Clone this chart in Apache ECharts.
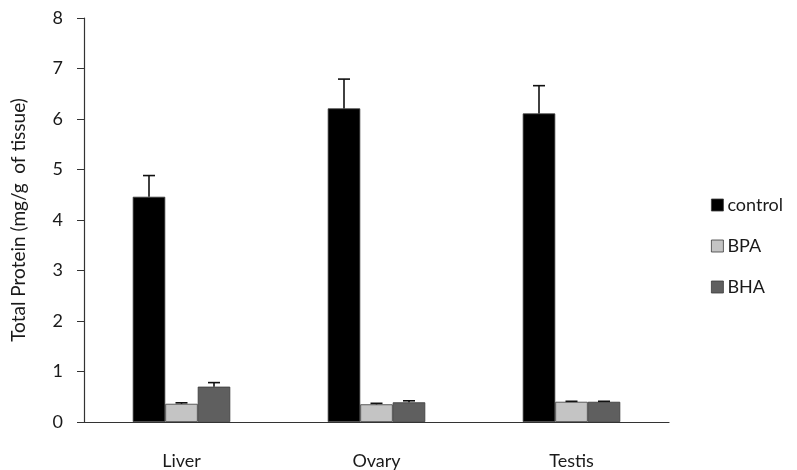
<!DOCTYPE html>
<html>
<head>
<meta charset="utf-8">
<script src="https://cdn.jsdelivr.net/npm/echarts@6/dist/echarts.min.js"></script>
<style>
  html, body { margin: 0; padding: 0; background: #fff; }
  #chart { width: 797px; height: 470px; }
</style>
</head>
<body>
<div id="chart"></div>
<script>
// Tissues and measured total protein (mg/g of tissue), with upper error (SD)
const tissues = ['Liver', 'Ovary', 'Testis'];
const controlValues = [4.46, 6.21, 6.11];
const controlErrors = [0.42, 0.58, 0.55];
const bpaValues = [0.36, 0.35, 0.40];
const bpaErrors = [0.02, 0.02, 0.01];
const bhaValues = [0.70, 0.39, 0.40];
const bhaErrors = [0.08, 0.03, 0.01];
const seriesNames = ['control', 'BPA', 'BHA'];
const yTicks = [0, 1, 2, 3, 4, 5, 6, 7, 8];

const colors = ['#000000', '#c4c4c4', '#5f5f5f'];
const fontFamily = 'Lato, "Open Sans", sans-serif';
const fontSize = 18;
const textColor = '#1a1a1a';
const GAP_RATIO = 0.5; // share of a category band left empty

const chart = echarts.init(document.getElementById('chart'), null, { renderer: 'canvas' });

// Upward error whiskers centred on each bar of a group
function errorSeries(values, errors, index) {
  return {
    type: 'custom',
    name: seriesNames[index] + ' error',
    z: 5,
    silent: true,
    data: values.map((v, i) => [i, v, v + errors[i]]),
    renderItem: function (params, api) {
      const cat = api.value(0);
      const band = api.size([1, 0])[0];
      const barW = band * (1 - GAP_RATIO) / 3;
      const base = api.coord([cat, api.value(1)]);
      const top = api.coord([cat, api.value(2)]);
      const x = base[0] + (index - 1) * barW;
      const half = 6;
      const style = { stroke: '#111', lineWidth: 1.6 };
      return {
        type: 'group',
        children: [
          { type: 'line', shape: { x1: x, y1: base[1], x2: x, y2: top[1] }, style: style },
          { type: 'line', shape: { x1: x - half, y1: top[1], x2: x + half, y2: top[1] }, style: style }
        ]
      };
    }
  };
}

function barSeries(values, index) {
  return {
    type: 'bar',
    name: seriesNames[index],
    data: values,
    barGap: '0%',
    barCategoryGap: (GAP_RATIO * 100) + '%',
    itemStyle: { color: colors[index], borderColor: '#3a3a3a', borderWidth: 0.8 }
  };
}

chart.setOption({
  animation: false,
  backgroundColor: '#ffffff',
  grid: { left: 84, right: 128, top: 18, bottom: 48, containLabel: false },
  legend: {
    data: seriesNames,
    orient: 'vertical',
    left: 706,
    top: 191,
    itemWidth: 12,
    itemHeight: 12,
    itemGap: 23,
    icon: 'rect',
    textStyle: { fontFamily: fontFamily, fontSize: fontSize, color: textColor, padding: [0, 0, 0, -1] },
    itemStyle: { borderColor: '#3a3a3a', borderWidth: 0.8 }
  },
  xAxis: {
    type: 'category',
    data: tissues,
    axisLine: { lineStyle: { color: '#333', width: 1.2 } },
    axisTick: { show: false },
    axisLabel: { fontFamily: fontFamily, fontSize: fontSize, color: textColor, margin: 30 }
  },
  yAxis: {
    type: 'value',
    min: yTicks[0],
    max: yTicks[yTicks.length - 1],
    interval: 1,
    name: 'Total Protein (mg/g  of tissue)',
    nameLocation: 'middle',
    nameGap: 56,
    nameRotate: 90,
    nameTextStyle: { fontFamily: fontFamily, fontSize: 19, color: textColor },
    axisLine: { show: true, lineStyle: { color: '#333', width: 1.2 } },
    axisTick: { show: true, inside: false, length: 7, lineStyle: { color: '#333' } },
    axisLabel: { fontFamily: fontFamily, fontSize: fontSize, color: textColor, margin: 21 },
    splitLine: { show: false }
  },
  series: [
    barSeries(controlValues, 0),
    barSeries(bpaValues, 1),
    barSeries(bhaValues, 2),
    errorSeries(controlValues, controlErrors, 0),
    errorSeries(bpaValues, bpaErrors, 1),
    errorSeries(bhaValues, bhaErrors, 2)
  ]
});
</script>
</body>
</html>
